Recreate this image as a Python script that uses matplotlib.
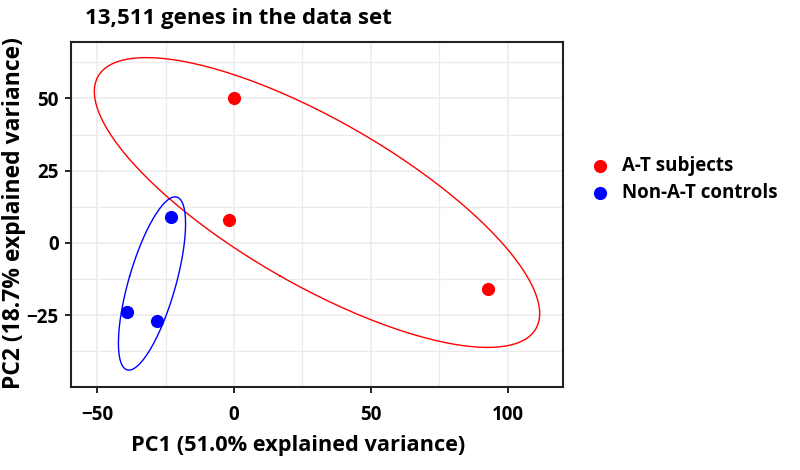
import numpy as np
import matplotlib
matplotlib.use("Agg")
import matplotlib.pyplot as plt
from matplotlib.ticker import MultipleLocator

plt.rcParams['font.family'] = ['Open Sans', 'DejaVu Sans']
plt.rcParams['font.weight'] = 'bold'

# PCA scores
groups = ['A-T subjects', 'Non-A-T controls']
colors = ['#FF0000', '#0000FF']
pc1_at = [0, -2, 93]
pc2_at = [50, 8, -16]
pc1_ctrl = [-23, -39, -28]
pc2_ctrl = [9, -24, -27]

title = '13,511 genes in the data set'
xlabel = 'PC1 (51.0% explained variance)'
ylabel = 'PC2 (18.7% explained variance)'


def ellipse_path(x, y, scale=1.5, n=200):
    """Ellipse from the group's mean and covariance (like stat_ellipse)."""
    pts = np.column_stack([x, y]).astype(float)
    center = pts.mean(axis=0)
    cov = np.cov(pts, rowvar=False)
    vals, vecs = np.linalg.eigh(cov)
    t = np.linspace(0, 2 * np.pi, n)
    circle = np.vstack([np.cos(t), np.sin(t)])
    shape = vecs @ np.diag(np.sqrt(vals)) @ circle * scale
    return center[0] + shape[0], center[1] + shape[1]


fig = plt.figure(figsize=(8, 4.7), dpi=100)
ax = fig.add_axes([0.0888, 0.1766, 0.615, 0.734])

data = [(pc1_at, pc2_at), (pc1_ctrl, pc2_ctrl)]
for (xs, ys), name, col in zip(data, groups, colors):
    ex, ey = ellipse_path(xs, ys)
    ax.plot(ex, ey, color=col, lw=1.0, zorder=2)
    ax.scatter(xs, ys, s=90, color=col, label=name, zorder=3, linewidths=0)

ax.set_xlim(-59.6, 120.3)
ax.set_ylim(-49.8, 69.5)
ax.xaxis.set_major_locator(MultipleLocator(50))
ax.xaxis.set_minor_locator(MultipleLocator(25))
ax.yaxis.set_major_locator(MultipleLocator(25))
ax.yaxis.set_minor_locator(MultipleLocator(12.5))
ax.grid(which='major', color='#EBEBEB', lw=1.1, zorder=0)
ax.grid(which='minor', color='#EBEBEB', lw=0.9, zorder=0)
ax.set_axisbelow(True)
ax.tick_params(which='minor', length=0)
ax.tick_params(axis='x', which='major', length=4, width=1.2, color='black',
               labelsize=13.5, pad=9)
ax.tick_params(axis='y', which='major', length=4, width=1.2, color='black',
               labelsize=13.5, pad=5)
for lab in ax.get_xticklabels() + ax.get_yticklabels():
    lab.set_fontweight('bold')
for sp in ax.spines.values():
    sp.set_linewidth(1.5)
    sp.set_color('#222222')

ax.set_xlabel(xlabel, fontsize=15.7, fontweight='bold')
ax.xaxis.set_label_coords(0.461, -0.14)
fig.text(0.018, 0.547, ylabel, rotation=90, ha='center', va='center',
         fontsize=16.5, fontweight='bold')
ax.set_title(title, fontsize=16, fontweight='bold', loc='left', pad=13,
             x=0.028)

ax.legend(loc='upper left', bbox_to_anchor=(0.717, 0.685),
          bbox_transform=fig.transFigure, frameon=False,
          handletextpad=0.2, labelspacing=0.4, borderaxespad=0,
          prop={'weight': 'bold', 'size': 13.5})

fig.savefig('out.png', dpi=100)
